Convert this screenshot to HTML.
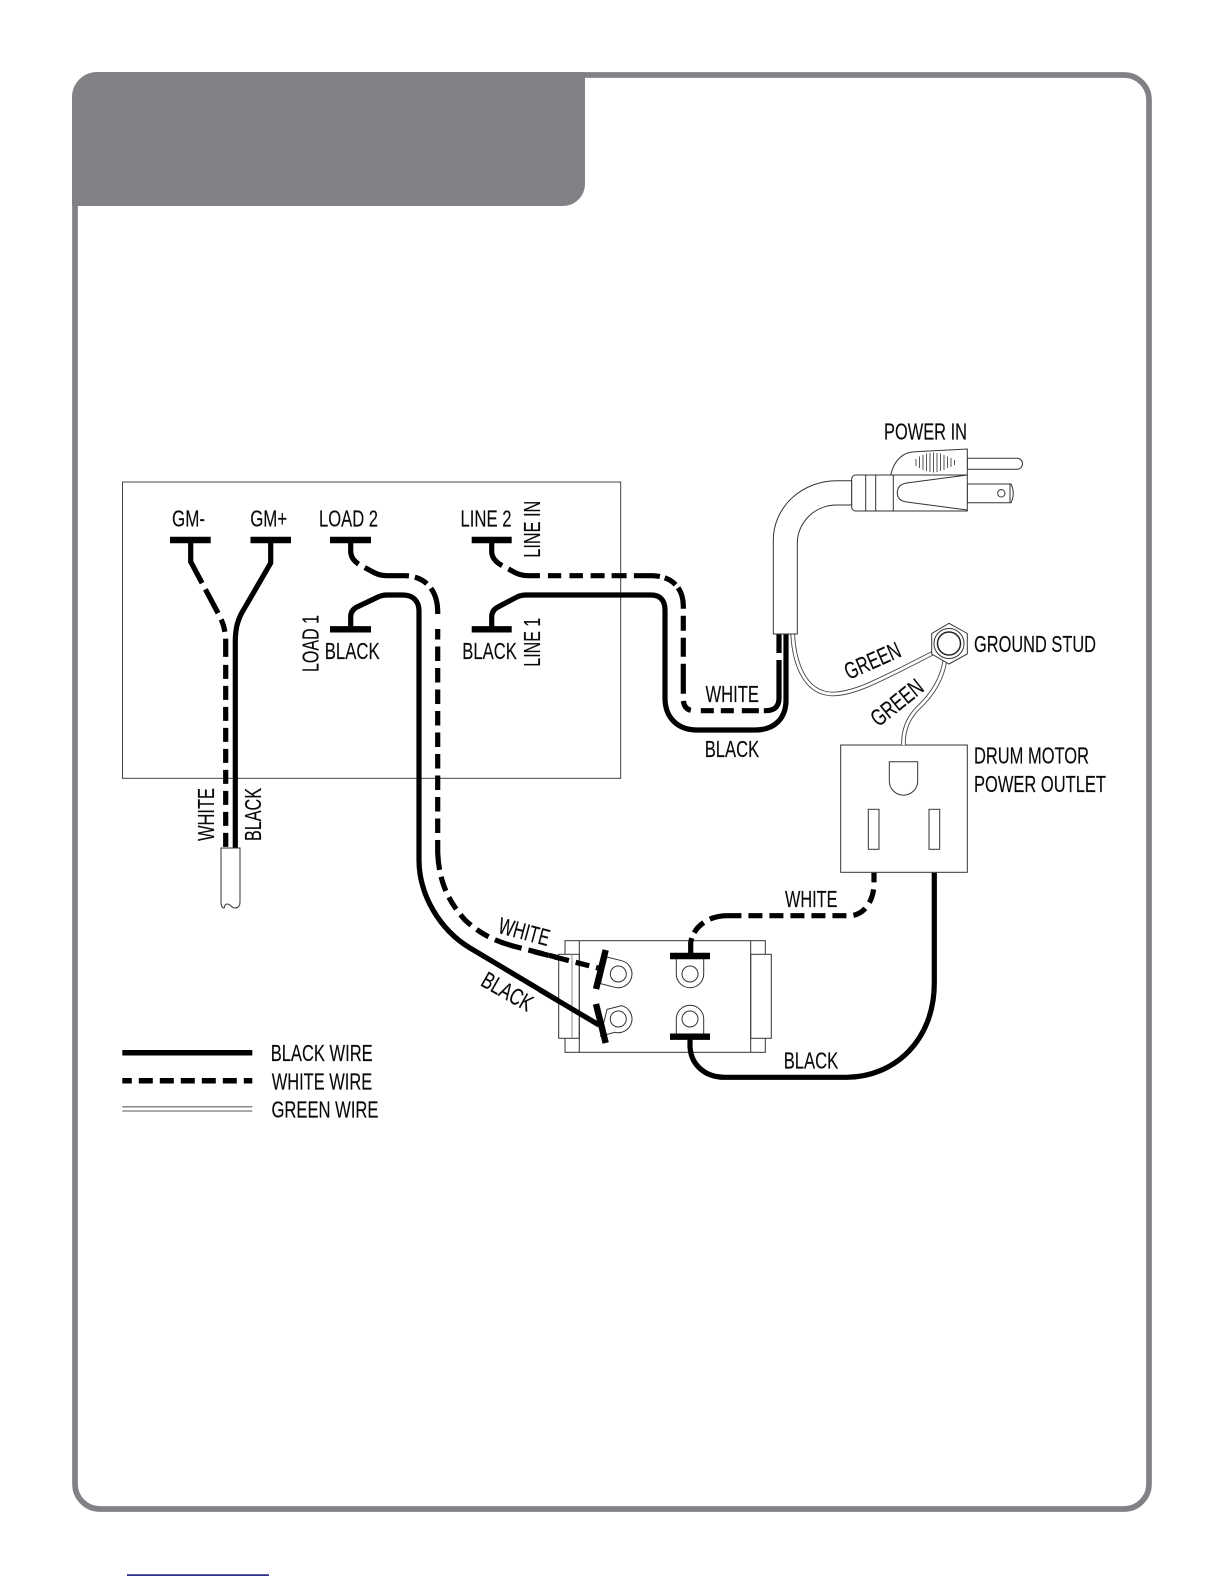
<!DOCTYPE html>
<html><head><meta charset="utf-8"><style>
html,body{margin:0;padding:0;background:#fff}
svg{display:block}
text{font-family:"Liberation Sans",sans-serif;font-size:23.5px;fill:#0a0a0a;stroke:#0a0a0a;stroke-width:.15}
.b{fill:none;stroke:#000;stroke-width:5.2;stroke-linejoin:round}
.w{fill:none;stroke:#000;stroke-width:5.2;stroke-dasharray:14 7}
.bar{stroke:#000;stroke-width:6.4;fill:none}
.t{fill:none;stroke:#333;stroke-width:1}
.f{fill:#fff;stroke:#333;stroke-width:1}
.g1{fill:none;stroke:#444;stroke-width:4.6}
.g2{fill:none;stroke:#fff;stroke-width:2.8}
</style></head><body>
<svg width="1224" height="1584" viewBox="0 0 1224 1584" xmlns="http://www.w3.org/2000/svg">
<rect width="1224" height="1584" fill="#fff"/>
<rect x="75" y="75" width="1074" height="1434" rx="25" fill="#fff" stroke="#808285" stroke-width="5.7"/>
<path d="M72 206V97a25 25 0 0 1 25-25H585V184a22 22 0 0 1-22 22Z" fill="#808285"/>
<rect x="127" y="1574.3" width="142" height="1.6" fill="#1a1a7a"/>

<rect x="122.5" y="482" width="498.2" height="296.3" fill="none" stroke="#444" stroke-width="1"/>

<!-- GM wires -->
<path class="w" d="M190.7 540V561.7L218 613C223 622 225.7 630 225.7 642V848" style="stroke-dasharray:46 7 27 7 13 7 18 8 14 7 14 7 14 7 14 7 14 7 14 7 14 7 14 7 14 7 14 7 14 7"/>
<path class="b" d="M270.7 540V563L241.7 613C237 622 235.3 630 235.3 642V848"/>
<path class="bar" d="M170 540H210.7M250.5 540H291"/>
<path class="f" d="M221 848H240V902C240 906 238 908 235 908C231 908 231 904 227 904C224 904 225 908 224 908C222 908 221 905 221 902Z"/>

<!-- Load 2 white -->
<path class="w" d="M350.7 540V552C351 558 355 562 360 565L372 571.5C377 574.5 381 575.7 387 575.7H405C425 576 437.7 590 437.7 612V622" style="stroke-dasharray:27 7 46 6 14 6 27 50"/>
<path class="w" d="M437.7 833V629" style="stroke-dasharray:14.5 7"/>
<path class="w" d="M437.7 840V853C439 880 447 900 465 920C480 934 495 941 513 946L598 968" style="stroke-dasharray:30 7 15 7 14 7 15 7 14 7 28 7 15 6 15 7 14 7 14 40"/>
<path class="bar" d="M330 540H371"/>
<!-- Load 1 black -->
<path class="b" d="M350.7 629V616C351 612 353 609 357 607L378 597C381 595.5 383 595 387 595H403C413 595 419 601 419 611V860C419 895 440 930 470 948L599 1025"/>
<path class="bar" d="M330 629.3H371"/>
<!-- Line 2 white -->
<path class="w" d="M491.7 540V552C492 558 496 562 501 565L513 571.5C518 574.5 522 575.7 528 575.7H652C672 576 683.3 588 683.3 606V698C683.3 706 686 710.7 695 710.7H766C775 710.7 779 706 779 698V660" style="stroke-dasharray:30 7 33 8 13.3 8.3 13.4 7.7 14 7 15 7.3 26 5 13 4 22 7 15 7 19 7 30 7 13 10 13 7 13 8 17 5 80 30"/>
<path class="w" d="M779 653V634" style="stroke-dasharray:none"/>
<path class="bar" d="M471.7 540H511.7"/>
<!-- Line 1 black -->
<path class="b" d="M491.7 629V616C492 612 494 609 498 607L517 597C520 595.5 522 595 526 595H651C660 595 665 600 665 610V698C665 718 678 730 697 730H755C775 730 786 718 786 700V634"/>
<path class="bar" d="M471.7 629.3H511.7"/>

<!-- Switch -->
<rect class="f" x="565" y="940.7" width="200.3" height="111.6"/>
<rect class="f" x="558.7" y="954.3" width="20.6" height="84"/>
<path d="M572 954.3V1038.3M758.3 954.3V1038.3" fill="none" stroke="#888" stroke-width="1"/>
<rect class="f" x="750.7" y="954.3" width="20.6" height="84"/>
<path class="t" d="M579.3 940.7V1052.3M750.7 940.7V1052.3"/>
<path class="f" d="M606.7 957L621.6 960.7A13.7 13.7 0 0 1 615 987.3L600.5 983.6Z"/>
<circle class="t" cx="618.3" cy="974" r="8"/>
<path class="f" d="M607 1009.4L621.6 1005.7A13.7 13.7 0 0 1 615 1032.3L600.5 1036Z"/>
<circle class="t" cx="618.3" cy="1019" r="8"/>
<path class="f" d="M676.3 956V974A13.7 13.7 0 0 0 703.7 974V956Z"/>
<circle class="t" cx="690" cy="974" r="8"/>
<path class="f" d="M676.3 1037V1019A13.7 13.7 0 0 1 703.7 1019V1037Z"/>
<circle class="t" cx="690" cy="1019" r="8"/>
<path class="w" d="M534 951.7L598 968" style="stroke-dasharray:15 6 15 7 14 7 14 40"/>
<path class="b" d="M540 990L599 1025"/>
<path class="bar" d="M605.7 950L596 989M596 1004L605.7 1043M670 956H710M670 1036.7H710"/>

<!-- Switch to outlet wires -->
<path class="w" d="M690.7 953V943C692 930 705 916 726.7 915.7H850C865 915 874 900 874 883V872.7" style="stroke-dasharray:15 6 14 7 32 7 14 7 14 7 14 7 14 7 14 7 14 7 14 7 13 6 14 6 15 30"/>
<path class="b" d="M690 1037V1046.7C691 1065 705 1077.3 725 1077.3H846.7C895 1077 934.3 1040 934.3 983.3V872.7"/>

<!-- Outlet -->
<rect class="f" x="840.7" y="745" width="126.6" height="127.3"/>
<path class="t" d="M889.3 761.7H917.7V781A14.2 14.2 0 0 1 889.3 781Z"/>
<rect class="t" x="868.3" y="809.3" width="10.7" height="40"/>
<rect class="t" x="929" y="809.3" width="10.7" height="40"/>

<!-- Green wires -->
<path class="g1" d="M792.7 634C794 660 803 693 832 694C855 694 880 680 935 652"/>
<path class="g2" d="M792.7 634C794 660 803 693 832 694C855 694 880 680 935 652"/>
<path class="g1" d="M945 660C942 680 932 695 918 708C908 718 903 730 903.5 745"/>
<path class="g2" d="M945 660C942 680 932 695 918 708C908 718 903 730 903.5 745"/>

<!-- Stud -->
<path class="f" d="M949 623.3L967.3 633.5V654L949 664L931.7 654V633.5Z" stroke-width="1.2"/>
<circle cx="949" cy="643.5" r="15" class="f"/>
<circle cx="949" cy="643.5" r="11.5" fill="#fff" stroke="#222" stroke-width="1.5"/>

<!-- Cord and plug -->
<path class="f" d="M773.3 634V540A63.4 59.3 0 0 1 836.7 480.7H851.7V505H836.7A39.4 38.3 0 0 0 797.3 543.3V634Z"/>
<path class="f" d="M967.3 458.3H1017A5.5 5.5 0 0 1 1017 469.3H967.3Z"/>
<path class="f" d="M967.3 484H1011C1014 490 1014 497 1011 502.7H967.3Z"/>
<path class="t" d="M1010 484V502.7"/>
<circle class="t" cx="1001.3" cy="493.3" r="3.7"/>
<path class="f" d="M890.7 475C894 460 903 452 915 451.7L967.3 449V475Z"/>
<path class="f" d="M851.7 479A4 4 0 0 1 855.7 475H967.3V511H855.7A4 4 0 0 1 851.7 507Z"/>
<path class="t" d="M865.7 475V511M875.7 475V511M893.3 475V511"/>
<path class="t" d="M967.3 475L906.7 483C900 484 897.3 488 897.3 493C897.3 498 900 501 906.7 502L967.3 510"/>
<path d="M916 459V466M919.5 456.5V468M923 455V470M926.5 453.5V471M930 453V472M933.5 452.5V472.5M937 453V472M940.5 453.5V471M944 455V470M947.5 456.5V468M951 458V467M954.5 460V465" fill="none" stroke="#555" stroke-width="1"/>

<!-- Legend -->
<path d="M122.3 1052.7H252.3" stroke="#000" stroke-width="5.5"/>
<path d="M122.3 1080.7H252.3" stroke="#000" stroke-width="5.5" stroke-dasharray="9.5 7 14 7 14 7 14 7 14 7 14 7 14 7"/>
<path d="M122.3 1106.7H252.3" stroke="#888" stroke-width="1.5"/>
<path d="M122.3 1111H252.3" stroke="#555" stroke-width="1"/>

<!-- Labels -->
<text x="172" y="526.5" textLength="33" lengthAdjust="spacingAndGlyphs">GM-</text>
<text x="250.2" y="526.5" textLength="37" lengthAdjust="spacingAndGlyphs">GM+</text>
<text x="319" y="526.5" textLength="59" lengthAdjust="spacingAndGlyphs">LOAD 2</text>
<text x="460.5" y="526.5" textLength="51" lengthAdjust="spacingAndGlyphs">LINE 2</text>
<text transform="translate(540 557.7) rotate(-90)" textLength="57" lengthAdjust="spacingAndGlyphs">LINE IN</text>
<text transform="translate(318.3 672) rotate(-90)" textLength="57" lengthAdjust="spacingAndGlyphs">LOAD 1</text>
<text x="324.7" y="658.8" textLength="55" lengthAdjust="spacingAndGlyphs">BLACK</text>
<text x="462.3" y="658.8" textLength="54.5" lengthAdjust="spacingAndGlyphs">BLACK</text>
<text transform="translate(540 666.7) rotate(-90)" textLength="49" lengthAdjust="spacingAndGlyphs">LINE 1</text>
<text x="705.5" y="702" textLength="53.5" lengthAdjust="spacingAndGlyphs">WHITE</text>
<text x="704.7" y="757" textLength="54.5" lengthAdjust="spacingAndGlyphs">BLACK</text>
<text transform="translate(214 841) rotate(-90)" textLength="53" lengthAdjust="spacingAndGlyphs">WHITE</text>
<text transform="translate(261.2 841) rotate(-90)" textLength="53" lengthAdjust="spacingAndGlyphs">BLACK</text>
<text transform="translate(497 932.7) rotate(15)" textLength="52" lengthAdjust="spacingAndGlyphs">WHITE</text>
<text transform="translate(479.5 985) rotate(29.5)" textLength="55" lengthAdjust="spacingAndGlyphs">BLACK</text>
<text x="785" y="907" textLength="52.5" lengthAdjust="spacingAndGlyphs">WHITE</text>
<text x="783.7" y="1068.6" textLength="54.5" lengthAdjust="spacingAndGlyphs">BLACK</text>
<text x="974" y="763.6" textLength="115" lengthAdjust="spacingAndGlyphs">DRUM MOTOR</text>
<text x="974" y="792" textLength="132" lengthAdjust="spacingAndGlyphs">POWER OUTLET</text>
<text x="884" y="439.3" textLength="83" lengthAdjust="spacingAndGlyphs">POWER IN</text>
<text x="974" y="652" textLength="122" lengthAdjust="spacingAndGlyphs">GROUND STUD</text>
<text transform="translate(848.8 680) rotate(-24)" textLength="59" lengthAdjust="spacingAndGlyphs">GREEN</text>
<text transform="translate(878.5 727.5) rotate(-38.6)" textLength="60" lengthAdjust="spacingAndGlyphs">GREEN</text>
<text x="270.7" y="1061" textLength="102" lengthAdjust="spacingAndGlyphs">BLACK WIRE</text>
<text x="271.7" y="1089.3" textLength="100.5" lengthAdjust="spacingAndGlyphs">WHITE WIRE</text>
<text x="271.5" y="1117.3" textLength="107" lengthAdjust="spacingAndGlyphs">GREEN WIRE</text>
</svg>
</body></html>
